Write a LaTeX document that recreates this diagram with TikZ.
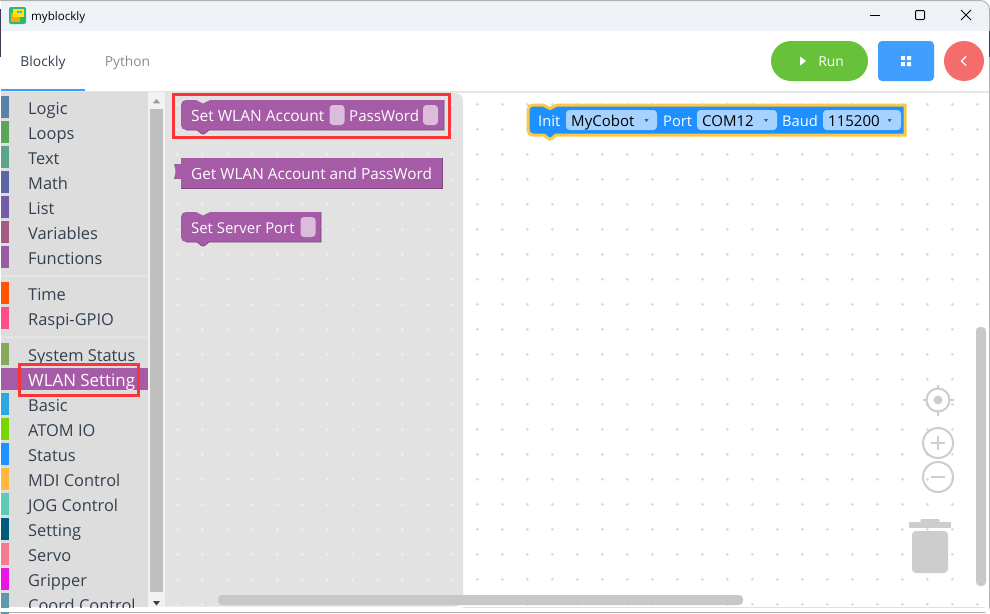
\documentclass[tikz,border=0pt]{standalone}
\usepackage{fontspec}
\setmainfont{Open Sans}
\definecolor{blockpurple}{HTML}{A55BA5}
\definecolor{blockdark}{HTML}{7F4680}
\definecolor{slotpurple}{HTML}{DBBDDB}
\definecolor{initblue}{HTML}{1E90FF}
\definecolor{fieldblue}{HTML}{A5D2FF}
\definecolor{boxred}{HTML}{F93535}
\definecolor{toolgrey}{HTML}{DDDDDD}
\definecolor{flyoutgrey}{HTML}{E2E2E2}
\definecolor{uigrey}{HTML}{C8C8C8}
\definecolor{titlebg}{HTML}{EEF2F7}
\definecolor{toolink}{HTML}{34404F}
\definecolor{rungreen}{HTML}{67C23A}
\definecolor{uiblue}{HTML}{409EFF}
\definecolor{uired}{HTML}{F56C6C}
\definecolor{selyellow}{HTML}{FCC846}
\definecolor{appgreen}{HTML}{2EB872}
\definecolor{edgedark}{HTML}{3A3A50}
\tikzset{
  x=1pt,y=-1pt,
  toollabel/.style={anchor=base west,inner sep=0pt,text=toolink,font=\fontsize{16.4}{18}\selectfont},
  blocklabel/.style={anchor=base west,inner sep=0pt,text=white,font=\fontsize{#1}{18}\selectfont},
  blocklabel/.default=15.5,
  initlabelstyle/.style={anchor=base west,inner sep=0pt,text=white,font=\fontsize{14.7}{18}\selectfont},
  fieldlabel/.style={anchor=base west,inner sep=0pt,text=black,font=\fontsize{15}{18}\selectfont},
  tablabel/.style={anchor=base,inner sep=0pt,font=\fontsize{13.8}{16}\selectfont},
  markbox/.style={draw=boxred,line width=3pt},
  slot/.style={fill=slotpurple,rounded corners=3.5pt},
  field/.style={fill=fieldblue,rounded corners=3.5pt},
  uiline/.style={draw=uigrey,line width=2pt,opacity=.9},
  uifill/.style={fill=uigrey,opacity=.9},
}
% statement-block outline: left x, right x, top y
\newcommand{\stmtpath}[3]{
  (#1+5,#3) -- (#1+15,#3) .. controls (#1+18,#3) and (#1+19,#3+3.5) .. (#1+22,#3+3.5)
  .. controls (#1+25,#3+3.5) and (#1+26,#3) .. (#1+29,#3)
  -- (#2,#3) -- (#2,#3+30) -- (#1+28.5,#3+30)
  .. controls (#1+26,#3+30) and (#1+25,#3+34) .. (#1+22,#3+34)
  .. controls (#1+19,#3+34) and (#1+18,#3+30) .. (#1+15.5,#3+30)
  -- (#1+5,#3+30) .. controls (#1+2,#3+30) and (#1,#3+28) .. (#1,#3+25)
  -- (#1,#3+5) .. controls (#1,#3+2) and (#1+2,#3) .. (#1+5,#3) -- cycle
}
% dark lower and right edge of a statement block
\newcommand{\stmtedge}[3]{
  (#1+5,#3+30) -- (#1+15.5,#3+30)
  .. controls (#1+18,#3+30) and (#1+19,#3+34) .. (#1+22,#3+34)
  .. controls (#1+25,#3+34) and (#1+26,#3+30) .. (#1+28.5,#3+30)
  -- (#2,#3+30) -- (#2,#3)
}
\begin{document}
\begin{tikzpicture}
\useasboundingbox (0,0) rectangle (990,613);
\fill[white] (0,0) rectangle (990,613);
% title bar
\fill[titlebg] (1,1) -- (980,1) .. controls (985,1) and (989,5) .. (989,10) -- (989,31) -- (1,31) -- cycle;
\draw[black!30,line width=1pt] (0,0.5) -- (980,0.5) .. controls (985.5,0.5) and (989.5,4.5) .. (989.5,10) -- (989.5,607)
  .. controls (989.5,610) and (987,612.5) .. (984,612.5) -- (0,612.5);
\fill[edgedark] (0,9) rectangle (1,57);
\fill[edgedark] (989,31) rectangle (990,57);
\fill[appgreen,rounded corners=2pt] (9,7) rectangle (26,24);
\fill[orange!70!yellow] (11,13) rectangle (20,22);
\fill[yellow!90!orange] (13,9) rectangle (24,17);
\fill[cyan!60!blue!60] (17,11) rectangle (22,13);
\node[anchor=base west,inner sep=0pt,font=\fontsize{11.6}{14}\selectfont,text=black] (apptitle) at (31,20) {myblockly};
\draw[line width=1pt] (870,15) -- (880,15);
\draw[line width=1pt,rounded corners=1pt] (915.5,10.5) rectangle (924.5,19.5);
\draw[line width=1pt] (961,10) -- (971,20) (971,10) -- (961,20);
% tabs
\node[tablabel,text=toolink] (tabblockly) at (43,66) {Blockly};
\node[tablabel,text=black!45] (tabpython) at (127.5,66) {Python};
\fill[black!10] (1,91) rectangle (989,93);
\fill[uiblue] (1,89) rectangle (85,91);
% buttons
\fill[rungreen,rounded corners=20pt] (771,41) rectangle (868,81);
\fill[white] (800,56.5) -- (806,61) -- (800,65.5) -- cycle;
\node[tablabel,text=white] (runlabel) at (831,66) {Run};
\fill[uiblue,rounded corners=4pt] (878,41) rectangle (934,81);
\fill[white] (901,56) rectangle (905,60) (907,56) rectangle (911,60) (901,62) rectangle (905,66) (907,62) rectangle (911,66);
\fill[uired] (964,61) circle[radius=20];
\draw[white,line width=1.2pt] (966,56.5) -- (961.5,61) -- (966,65.5);
% workspace grid
\foreach \gx in {0,...,32} \foreach \gy in {0,...,20} {
  \pgfmathsetmacro{\px}{177.3+25*\gx}\pgfmathsetmacro{\py}{104.3+25*\gy}
  \fill[black!18] (\px-1.5,\py-0.35) rectangle (\px+1.5,\py+0.35) (\px-0.35,\py-1.5) rectangle (\px+0.35,\py+1.5);
}
% flyout
\fill[flyoutgrey,rounded corners=8pt] (150,93) -- (463,93) -- (463,606.5) -- (150,606.5) -- cycle;
\foreach \gx in {0,...,11} \foreach \gy in {0,...,20} {
  \pgfmathsetmacro{\px}{177.3+25*\gx}\pgfmathsetmacro{\py}{104.3+25*\gy}
  \fill[black!5] (\px-1.5,\py-0.35) rectangle (\px+1.5,\py+0.35) (\px-0.35,\py-1.5) rectangle (\px+0.35,\py+1.5);
}
% toolbox
\fill[toolgrey] (1,92) rectangle (148,607);
\fill[black!5] (148,92) rectangle (165,607);
\fill[black!25] (150,109) rectangle (163,592);
\fill[black!40] (153,103.3) -- (156.5,99) -- (160,103.3) -- cycle;
\fill[black!75] (153,601) -- (156.5,605.5) -- (160,601) -- cycle;
\fill[black!7] (1,275.5) rectangle (148,276.5) (1,336.5) rectangle (148,337.5);
\fill[blockpurple] (1,368) rectangle (148,390);
\foreach \lab/\yy/\col in {
  Logic/108/5B80A5, Loops/133/5BA55B, Text/158/5BA58C, Math/183/5B67A5, List/208/745BA5,
  Variables/233/A55B80, Functions/258/995BA5, Time/294/FF5500, Raspi-GPIO/319/FF4D8C,
  System Status/355/85A85B, Basic/405/2FA8E0, ATOM IO/430/77D800, Status/455/1E90FF,
  MDI Control/480/FFB83F, JOG Control/505/5CCBB5, Setting/530/005A7A, Servo/555/F47A8C,
  Gripper/580/EA14E4, Coord Control/605/5F9AA8}{
  \definecolor{barcol}{HTML}{\col}
  \fill[barcol] (1,\yy-12) rectangle (9,\yy+10);
  \node[toollabel] at (28,\yy+6.4) {\lab};
}
% window bottom strip hides what runs off the list
\fill[white] (1,607.5) rectangle (989,612);
\draw[black!12] (463,607) -- (985,607);
\node[toollabel,text=white,font=\fontsize{16.9}{18}\selectfont] (wlantool) at (28,386.4) {WLAN Setting};
% flyout blocks
\fill[blockpurple] \stmtpath{181}{444}{100};
\draw[blockdark,line width=0.8pt] \stmtedge{181}{444}{100};
\fill[slot] (329.5,105) rectangle (344.5,125);
\fill[slot] (423,105) rectangle (438,125);
\node[blocklabel] (wlanset) at (191,121) {Set WLAN Account};
\node[blocklabel=15.1] (wlanpass) at (349,121) {PassWord};
\fill[blockpurple] (181,158) rectangle (442,188);
\fill[blockpurple] (181.5,164) -- (174.5,164) .. controls (173,164) and (175.5,167) .. (175.5,171.5) .. controls (175.5,176) and (173,179) .. (174.5,179) -- (181.5,179) -- cycle;
\draw[blockdark,line width=0.8pt] (181,188) -- (442,188) -- (442,158);
\node[blocklabel=15.35] (wlanget) at (191,179) {Get WLAN Account and PassWord};
\fill[blockpurple] \stmtpath{181}{321}{212};
\draw[blockdark,line width=0.8pt] \stmtedge{181}{321}{212};
\fill[slot] (300.5,217) rectangle (315.5,237);
\node[blocklabel=14.9] (serverport) at (191,233) {Set Server Port};
% workspace block
\fill[initblue,draw=selyellow,line width=3pt] \stmtpath{528}{905}{105};
\fill[field] (566,110) rectangle (657,130);
\fill[field] (697,110) rectangle (777,130);
\fill[field] (823,110) rectangle (901,130);
\node[initlabelstyle] (initlabel) at (538,126.2) {Init};
\node[fieldlabel] (robot) at (571,126.2) {MyCobot};
\node[initlabelstyle] (portlabel) at (663,126.2) {Port};
\node[fieldlabel] (port) at (702,126.2) {COM12};
\node[initlabelstyle] (baudlabel) at (782,126.2) {Baud};
\node[fieldlabel] (baud) at (828,126.2) {115200};
\foreach \tx in {646.5,766,889.5} \fill[initblue!70!black] (\tx-2,119) -- (\tx+2,119) -- (\tx,122) -- cycle;
% highlight boxes
\draw[markbox] (173.8,94.2) rectangle (449.5,137.8);
\draw[markbox] (19.8,364.2) rectangle (138.5,395.2);
% scrollbars
\fill[uigrey,rounded corners=4pt] (218,595) rectangle (743,605);
\fill[uigrey,rounded corners=4pt] (976,327) rectangle (986,586);
% controls
\draw[uiline] (938,400) circle[radius=11.5];
\fill[uifill] (938,400) circle[radius=4.5];
\draw[uiline] (938,384.5) -- (938,388.5) (938,411.5) -- (938,415.5) (922.5,400) -- (926.5,400) (949.5,400) -- (953.5,400);
\draw[uiline] (938,443) circle[radius=15];
\draw[uiline,line width=1.3pt] (931,443) -- (945,443) (938,436) -- (938,450);
\draw[uiline] (938,477) circle[radius=15];
\draw[uiline] (931,477) -- (945,477);
% trash
\fill[uifill] (909,522) rectangle (951,528);
\fill[uifill,rounded corners=1.5pt] (920,519) rectangle (940,522);
\fill[uifill,rounded corners=4pt] (912,531) -- (948,531) -- (948,573) -- (912,573) -- cycle;
\end{tikzpicture}
\end{document}
